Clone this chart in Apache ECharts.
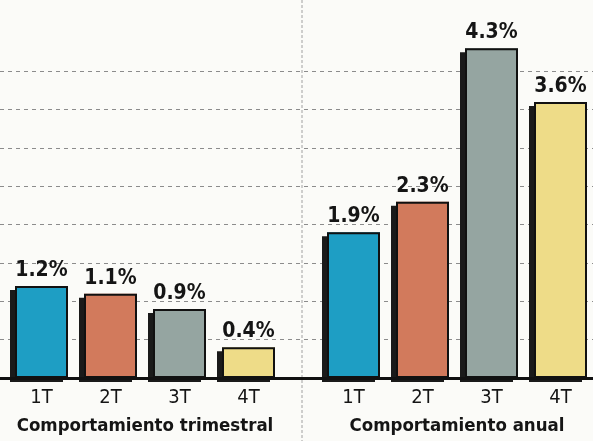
<!DOCTYPE html>
<html>
<head>
<meta charset="utf-8">
<script src="https://cdn.jsdelivr.net/npm/echarts@6/dist/echarts.min.js"></script>
<style>
html,body{margin:0;padding:0;background:#fbfbf8;}
#c{width:593px;height:441px;}
</style>
</head>
<body>
<div id="c"></div>
<script>
const categories = ['1T', '2T', '3T', '4T'];
const trimestral = [1.2, 1.1, 0.9, 0.4];
const anual = [1.9, 2.3, 4.3, 3.6];
const barColors = ['#1e9ec4', '#d27a5c', '#95a5a1', '#eedc88'];
const panelTitles = ['Comportamiento trimestral', 'Comportamiento anual'];
const yMin = 0, yMax = 4.5, yStep = 0.5;

const condensed = "'DejaVu Sans Condensed', 'Liberation Sans Narrow', sans-serif";

const chart = echarts.init(document.getElementById('c'), null, {renderer: 'canvas'});

function fillSeries(values, idx) {
  return {
    type: 'bar',
    xAxisIndex: idx,
    yAxisIndex: idx,
    barWidth: 53,
    z: 5,
    data: values.map((v, i) => ({value: v, itemStyle: {color: barColors[i]}})),
    itemStyle: {
      borderWidth: 0,
      shadowColor: '#1a1a1a',
      shadowBlur: 0,
      shadowOffsetX: -5,
      shadowOffsetY: 4
    }
  };
}

function outlineSeries(values, idx) {
  return {
    type: 'bar',
    xAxisIndex: idx,
    yAxisIndex: idx,
    barWidth: 53,
    barGap: '-100%',
    z: 6,
    data: values,
    itemStyle: {
      color: 'rgba(0,0,0,0)',
      borderColor: '#111',
      borderWidth: 2
    },
    label: {
      show: true,
      position: 'top',
      distance: 5,
      formatter: p => p.value.toFixed(1) + '%',
      fontFamily: condensed,
      fontWeight: 'bold',
      fontSize: 21,
      color: '#151515'
    }
  };
}

function catAxis(idx, title) {
  return {
    type: 'category',
    gridIndex: idx,
    data: categories,
    axisLine: {show: false},
    axisTick: {show: false},
    axisLabel: {
      margin: 10,
      fontFamily: condensed,
      fontSize: 20,
      color: '#151515'
    },
    name: title,
    nameLocation: 'middle',
    nameGap: 39,
    nameTextStyle: {
      fontFamily: condensed,
      fontWeight: 'bold',
      fontSize: 18.5,
      color: '#151515'
    }
  };
}

function valAxis(idx, showSplit) {
  const n = Math.round((yMax - yMin) / yStep) + 1;
  const cols = [];
  for (let i = 0; i < n; i++) cols.push(i === 0 || i === n - 1 ? 'rgba(0,0,0,0)' : '#8c8c8c');
  return {
    type: 'value',
    gridIndex: idx,
    min: yMin,
    max: yMax,
    interval: yStep,
    axisLine: {show: false},
    axisTick: {show: false},
    axisLabel: {show: false},
    splitLine: {
      show: showSplit,
      lineStyle: {color: cols, type: [4, 4], width: 1}
    }
  };
}

chart.setOption({
  backgroundColor: '#fbfbf8',
  animation: false,
  grid: [
    {left: 7, width: 276, top: 33, bottom: 63, containLabel: false, outerBoundsMode: 'none'},
    {left: 319, width: 276, top: 33, bottom: 63, containLabel: false, outerBoundsMode: 'none'},
    {left: 0, right: 0, top: 33, bottom: 63, containLabel: false, outerBoundsMode: 'none'}
  ],
  xAxis: [
    catAxis(0, panelTitles[0]),
    catAxis(1, panelTitles[1]),
    {
      type: 'category', gridIndex: 2, data: [''], z: 10,
      axisLine: {show: true, lineStyle: {color: '#111', width: 3}},
      axisTick: {show: false}, axisLabel: {show: false}
    }
  ],
  yAxis: [
    valAxis(0, false),
    valAxis(1, false),
    valAxis(2, true)
  ],
  graphic: [{
    type: 'line',
    shape: {x1: 302, y1: 0, x2: 302, y2: 441},
    style: {stroke: '#a0a0a0', lineWidth: 1, lineDash: [3, 2]},
    z: 1
  }],
  series: [
    fillSeries(trimestral, 0),
    outlineSeries(trimestral, 0),
    fillSeries(anual, 1),
    outlineSeries(anual, 1)
  ]
});
</script>
</body>
</html>
